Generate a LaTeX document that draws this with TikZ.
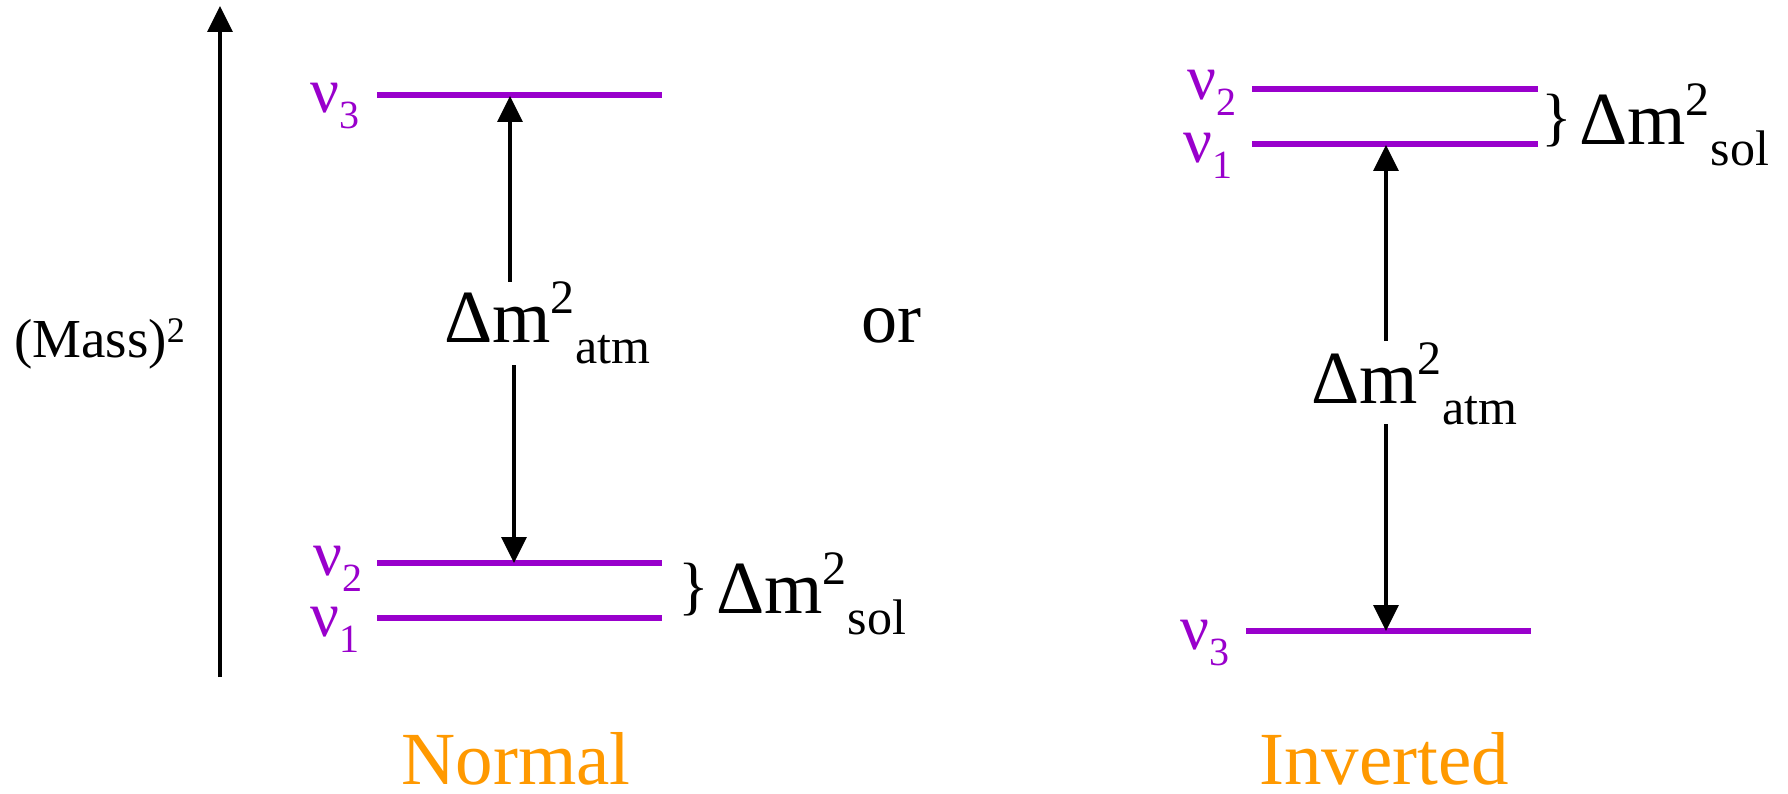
\documentclass[tikz,border=0pt]{standalone}
\usepackage{fontspec}
\setmainfont{Liberation Serif}
\usetikzlibrary{arrows.meta}
\definecolor{nupurple}{RGB}{153,0,204}
\definecolor{hierorange}{RGB}{255,153,0}
\newcommand{\nulab}[1]{ν\raisebox{-16pt}{\fontsize{40}{40}\selectfont #1}}
\newcommand{\dmlab}[1]{Δm\raisebox{29pt}{\fontsize{48}{48}\selectfont 2}\kern1pt\raisebox{-21pt}{\fontsize{50}{50}\selectfont #1}}
\begin{document}
\begin{tikzpicture}[x=1pt,y=-1pt,
  level/.style={draw=nupurple, line width=6pt},
  arr/.style={draw=black, line width=3.2pt, -{Triangle[length=26pt,width=25pt]}},
  nu/.style={text=nupurple, font=\fontsize{64}{64}\selectfont, inner sep=0pt, anchor=base east},
  dm/.style={font=\fontsize{75}{75}\selectfont, inner sep=0pt, anchor=base west},
  bracelab/.style={font=\fontsize{64}{64}\selectfont, inner sep=0pt},
  title/.style={text=hierorange, font=\fontsize{75}{75}\selectfont, inner sep=0pt, anchor=base}
]
\useasboundingbox (0,0) rectangle (1788,794);
\fill[white] (0,0) rectangle (1788,794);

% axis
\coordinate (axb) at (220,677);
\coordinate (axt) at (220,6);
\draw[line width=3.4pt, -{Triangle[length=26pt,width=25pt]}] (axb) -- (axt);
\node[inner sep=0pt, anchor=base west, font=\fontsize{55}{55}\selectfont] (mass) at (14,357)
  {(Mass)\raisebox{15pt}{\fontsize{36}{36}\selectfont 2}};

% Normal hierarchy levels
\coordinate (n3l) at (377,95);  \coordinate (n3r) at (662,95);
\coordinate (n2l) at (377,563); \coordinate (n2r) at (662,563);
\coordinate (n1l) at (377,618); \coordinate (n1r) at (662,618);
\draw[level] (n3l) -- (n3r);
\draw[level] (n2l) -- (n2r);
\draw[level] (n1l) -- (n1r);
\node[nu] (nN3) at (360,113) {\nulab{3}};
\node[nu] (nN2) at (363,575) {\nulab{2}};
\node[nu] (nN1) at (360,636) {\nulab{1}};

% Normal atm arrow
\node[dm] (atmN) at (444,342) {\dmlab{atm}};
\coordinate (nUpS) at (510,282); \coordinate (nUpE) at (510,96);
\coordinate (nDnS) at (514,365); \coordinate (nDnE) at (514,563);
\draw[arr] (nUpS) -- (nUpE);
\draw[arr] (nDnS) -- (nDnE);

% Normal sol
\node[bracelab] (brN) at (694,590) {\}};
\node[dm] (solN) at (716,613) {\dmlab{sol}};

\node[dm, font=\fontsize{72}{72}\selectfont] (or) at (861,342) {or};

% Inverted hierarchy levels
\coordinate (i2l) at (1252,89);  \coordinate (i2r) at (1538,89);
\coordinate (i1l) at (1252,144); \coordinate (i1r) at (1538,144);
\coordinate (i3l) at (1246,631); \coordinate (i3r) at (1531,631);
\draw[level] (i2l) -- (i2r);
\draw[level] (i1l) -- (i1r);
\draw[level] (i3l) -- (i3r);
\node[nu] (nI2) at (1237,100) {\nulab{2}};
\node[nu] (nI1) at (1233,163) {\nulab{1}};
\node[nu] (nI3) at (1230,649) {\nulab{3}};

\node[bracelab] (brI) at (1557,121) {\}};
\node[dm] (solI) at (1579,145) {\dmlab{sol}};

\node[dm] (atmI) at (1311,403) {\dmlab{atm}};
\coordinate (iUpS) at (1386,341); \coordinate (iUpE) at (1386,145);
\coordinate (iDnS) at (1386,424); \coordinate (iDnE) at (1386,631);
\draw[arr] (iUpS) -- (iUpE);
\draw[arr] (iDnS) -- (iDnE);

% titles
\node[title] (normal) at (516,784) {Normal};
\node[title] (inverted) at (1384,784) {Inverted};
\end{tikzpicture}
\end{document}
